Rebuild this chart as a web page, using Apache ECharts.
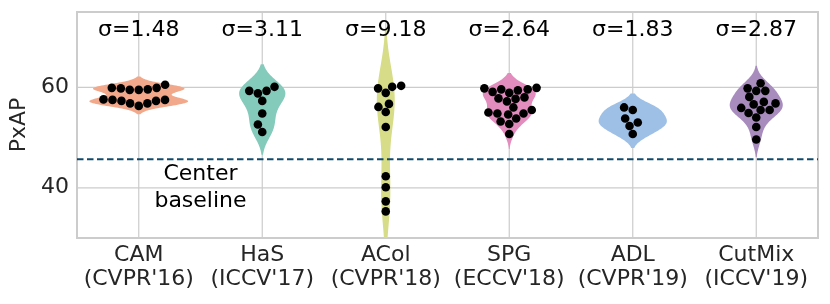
<!DOCTYPE html>
<html><head><meta charset="utf-8">
<script src="https://cdn.jsdelivr.net/npm/echarts@6/dist/echarts.min.js"></script>
<style>html,body{margin:0;padding:0;background:#fff}#c{width:830px;height:304px}</style>
</head><body><div id="c"></div>
<script>
// ---- data ----
const categories = ["CAM\n(CVPR'16)", "HaS\n(ICCV'17)", "ACol\n(CVPR'18)", "SPG\n(ECCV'18)", "ADL\n(CVPR'19)", "CutMix\n(ICCV'19)"];
const sigmaLabels = ["σ=1.48", "σ=3.11", "σ=9.18", "σ=2.64", "σ=1.83", "σ=2.87"];
const camScores = [59.9, 59.8, 59.5, 59.5, 59.6, 59.9, 60.5, 57.5, 57.3, 56.8, 56.3, 56.8, 57.3, 57.5, 57.6];
const hasScores = [59.3, 58.8, 59.3, 60.1, 57.3, 54.8, 52.6, 51.1];
const acolScores = [60.3, 60.1, 59.8, 58.9, 56.7, 56.1, 55.1, 52.1, 42.3, 40.1, 37.3, 35.3];
const spgScores = [59.9, 59.8, 59.6, 59.6, 59.4, 59.1, 58.9, 58.0, 57.8, 57.7, 57.2, 56.0, 55.5, 55.0, 54.8, 54.8, 54.6, 53.8, 53.2, 52.7, 50.7];
const adlScores = [56.0, 55.5, 53.8, 53.0, 52.3, 50.7];
const cutmixScores = [60.8, 59.8, 59.3, 59.3, 58.1, 57.1, 56.6, 56.8, 55.9, 54.9, 55.5, 55.5, 54.0, 52.1, 49.6];
const yTickLabels = [40, 60];
const baselineValue = 45.7;
const baselineText = "Center\nbaseline";
const yName = "PxAP";

// ---- styles ----
const violinColors = ['#f2a98b', '#85cbbb', '#d6dc87', '#e38dbf', '#9ec0e6', '#a88cbe'];
const groups = [camScores, hasScores, acolScores, spgScores, adlScores, cutmixScores];
const FONT = 'DejaVu Sans';
const FS = 22;
const DOT_R = 4.3;

function kdeProfile(vals) {
  const n = vals.length;
  const mean = vals.reduce((a, b) => a + b, 0) / n;
  const sd = Math.sqrt(vals.reduce((a, b) => a + (b - mean) * (b - mean), 0) / (n - 1));
  const bw = sd * Math.pow(n, -0.2);
  const lo = Math.min(...vals) - 2 * bw, hi = Math.max(...vals) + 2 * bw;
  const pts = [];
  for (let k = 0; k < 100; k++) {
    const y = lo + (hi - lo) * k / 99;
    let d = 0;
    for (const v of vals) { const z = (y - v) / bw; d += Math.exp(-0.5 * z * z); }
    d /= n * bw * Math.sqrt(2 * Math.PI);
    pts.push([y, d]);
  }
  return pts;
}
const profiles = groups.map(kdeProfile);
const globalMax = Math.max(...profiles.map(p => Math.max(...p.map(q => q[1]))));

function beeswarm(ys, r) {
  const placed = [{ x: 0, y: ys[0] }];
  for (let k = 1; k < ys.length; k++) {
    const yi = ys[k];
    const nb = [];
    for (let j = placed.length - 1; j >= 0; j--) {
      if (yi - placed[j].y < 2 * r) nb.unshift(placed[j]); else break;
    }
    const cands = [0];
    let leftFirst = true;
    for (const p of nb) {
      const dy = yi - p.y;
      const dx = Math.sqrt(Math.max(4 * r * r - dy * dy, 0)) * 1.05;
      if (leftFirst) cands.push(p.x - dx, p.x + dx); else cands.push(p.x + dx, p.x - dx);
      leftFirst = !leftFirst;
    }
    const order = cands.map((c, idx) => [c, idx]).sort((a, b) => (Math.abs(a[0]) - Math.abs(b[0])) || (a[1] - b[1]));
    let chosen = order[order.length - 1][0];
    for (const [c] of order) {
      let ok = true;
      for (const p of nb) {
        const ddx = p.x - c, ddy = p.y - yi;
        if (ddx * ddx + ddy * ddy < 4 * r * r - 1e-9) { ok = false; break; }
      }
      if (ok) { chosen = c; break; }
    }
    placed.push({ x: chosen, y: yi });
  }
  return placed.map(p => p.x);
}

const chart = echarts.init(document.getElementById('c'), null, { renderer: 'canvas' });
const catIdx = categories.map((c, i) => [i]);

const option = {
  animation: false,
  grid: { left: 77, right: 12, top: 12, bottom: 66, show: true, borderColor: '#cccccc', borderWidth: 2, backgroundColor: 'transparent' },
  xAxis: {
    type: 'category', data: categories,
    axisLine: { show: false }, axisTick: { show: false }, splitLine: { show: false },
    axisLabel: { fontFamily: FONT, fontSize: FS, color: '#262626', lineHeight: 24, margin: 5, interval: 0 }
  },
  yAxis: {
    type: 'value', min: 30, max: 75, interval: 5,
    name: yName, nameLocation: 'middle', nameGap: 38,
    nameTextStyle: { fontFamily: FONT, fontSize: FS, color: '#262626' },
    axisLine: { show: false }, axisTick: { show: false }, splitLine: { show: false },
    axisLabel: { fontFamily: FONT, fontSize: FS, color: '#262626', margin: 8,
      formatter: v => yTickLabels.includes(v) ? String(v) : '' }
  },
  series: [
    { // grid lines
      type: 'custom', z: 1, silent: true, data: [[0]],
      renderItem: (params, api) => {
        const cs = params.coordSys;
        const children = [];
        yTickLabels.forEach(t => {
          const y = api.coord([0, t])[1];
          children.push({ type: 'line', shape: { x1: cs.x, y1: y, x2: cs.x + cs.width, y2: y }, style: { stroke: '#cccccc', lineWidth: 1.2 } });
        });
        categories.forEach((c, i) => {
          const x = api.coord([i, 50])[0];
          children.push({ type: 'line', shape: { x1: x, y1: cs.y, x2: x, y2: cs.y + cs.height }, style: { stroke: '#cccccc', lineWidth: 1.2 } });
        });
        return { type: 'group', children };
      }
    },
    { // violins
      type: 'custom', z: 2, silent: true, clip: true, data: catIdx,
      renderItem: (params, api) => {
        const i = api.value(0);
        const bandW = api.size([1, 0])[0];
        const prof = profiles[i];
        const left = [], right = [];
        prof.forEach(([v, d]) => {
          const p = api.coord([i, v]);
          const hw = d / globalMax * 0.4 * bandW;
          left.push([p[0] - hw, p[1]]);
          right.push([p[0] + hw, p[1]]);
        });
        return { type: 'polygon', shape: { points: left.concat(right.reverse()) }, style: { fill: violinColors[i] } };
      }
    },
    { // baseline
      type: 'custom', z: 3, silent: true, data: [[0]],
      renderItem: (params, api) => {
        const cs = params.coordSys;
        const y = api.coord([0, baselineValue])[1];
        return { type: 'line', shape: { x1: cs.x, y1: y, x2: cs.x + cs.width, y2: y },
          style: { stroke: '#0f4a6c', lineWidth: 2, lineDash: [6.5, 3.5] } };
      }
    },
    { // swarm points
      type: 'custom', z: 4, silent: true, data: catIdx,
      renderItem: (params, api) => {
        const i = api.value(0);
        const vals = groups[i].map((v, k) => [v, k]).sort((a, b) => (a[0] - b[0]) || (a[1] - b[1])).map(a => a[0]);
        const pix = vals.map(v => api.coord([i, v]));
        const offs = beeswarm(pix.map(p => -p[1]), DOT_R);
        return { type: 'group', children: pix.map((p, k) => ({ type: 'circle', shape: { cx: p[0] + offs[k], cy: p[1], r: DOT_R }, style: { fill: '#000' } })) };
      }
    },
    { // sigma labels
      type: 'custom', z: 5, silent: true, data: catIdx,
      renderItem: (params, api) => {
        const i = api.value(0);
        const p = api.coord([i, 71.4]);
        return { type: 'text', x: p[0], y: p[1], style: { text: sigmaLabels[i], fontFamily: FONT, fontSize: FS, fill: '#000', align: 'center', verticalAlign: 'middle' } };
      }
    },
    { // baseline annotation
      type: 'custom', z: 5, silent: true, data: [[0]],
      renderItem: (params, api) => {
        const a = api.coord([0, 40.0]), b = api.coord([1, 40.0]);
        return { type: 'text', x: (a[0] + b[0]) / 2, y: a[1], style: { text: baselineText, fontFamily: FONT, fontSize: FS, lineHeight: 27, fill: '#000', align: 'center', verticalAlign: 'middle' } };
      }
    }
  ]
};
chart.setOption(option);
</script>
</body></html>
